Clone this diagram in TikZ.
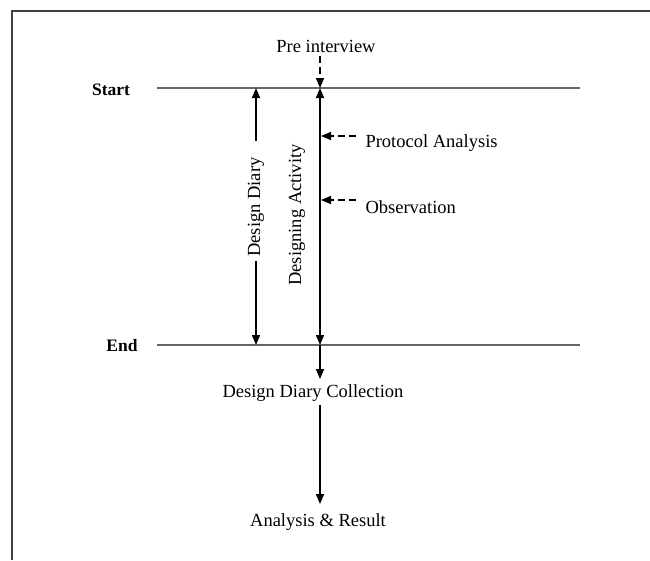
\documentclass[tikz,border=0pt]{standalone}
\usepackage{fontspec}
\setmainfont{Liberation Serif}
\usetikzlibrary{arrows.meta,positioning}
\tikzset{
  txt/.style={font=\fontsize{18.5}{20}\selectfont},
  lbl/.style={font=\fontsize{17.5}{19}\selectfont\bfseries},
  arr/.style={line width=1.3pt,-{Triangle[length=10pt,width=8pt]}},
  darr/.style={line width=1.3pt,{Triangle[length=10pt,width=8pt]}-{Triangle[length=10pt,width=8pt]}},
  dsh/.style={arr,dash pattern=on 7pt off 4pt},
  bar/.style={line width=2pt,black!60},
}

\begin{document}
\begin{tikzpicture}[x=1pt,y=-1pt]
  \useasboundingbox (0,0) rectangle (650,560);
  \draw[line width=1.5pt,black!75] (12,560) -- (12,11) -- (650,11);
  % time lines
  \node[lbl] (start) at (111,90) {Start};
  \node[lbl] (end) at (122,346) {End};
  \coordinate (sl) at (157,88);
  \coordinate (sr) at (580,88);
  \coordinate (el) at (157,345);
  \coordinate (er) at (580,345);
  \draw[bar] (sl) -- (sr);
  \draw[bar] (el) -- (er);
  % diary
  \coordinate (ddt) at (256,88);
  \coordinate (ddb) at (256,345);
  \node[txt,rotate=90,fill=white,inner sep=4pt] (dd) at (256,207) {Design Diary};
  \draw[arr,shorten <=12pt] (dd) -- (ddt);
  \draw[arr] (dd) -- (ddb);
  % activity
  \coordinate (dat) at (320,88);
  \coordinate (dab) at (320,345);
  \draw[darr] (dat) -- (dab);
  \node[txt,rotate=90] (da) at (297,215) {Designing Activity};
  \node[txt] (pre) at (326,46) {Pre interview};
  \draw[dsh] (pre.south -| dat) -- (dat);
  \coordinate (pa) at (321,136);
  \coordinate (ob) at (321,200);
  \node[txt,anchor=west] (prot) at (362,143) {Protocol Analysis};
  \node[txt,anchor=west] (obs) at (362,207) {Observation};
  \draw[dsh] ([xshift=-6pt,yshift=7pt]prot.west) -- (pa);
  \draw[dsh] ([xshift=-6pt,yshift=7pt]obs.west) -- (ob);
  % after
  \node[txt] (coll) at (313,393) {Design Diary Collection};
  \node[txt] (res) at (318,522) {Analysis \& Result};
  \draw[arr,shorten >=2pt] (dab) -- (coll.north -| dab);
  \draw[arr,shorten >=6pt] (coll.south -| dab) -- (res.north -| dab);
\end{tikzpicture}
\end{document}
